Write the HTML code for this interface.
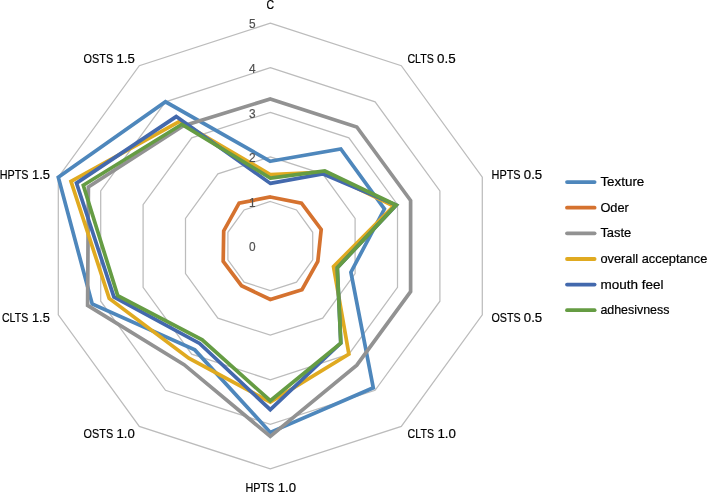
<!DOCTYPE html>
<html><head><meta charset="utf-8"><title>Radar chart</title>
<style>
html,body{margin:0;padding:0;background:#fff;}
svg{display:block;}
text{font-family:"Liberation Sans",sans-serif;}
.lbl{font-size:13px;fill:#000;stroke:#000;stroke-width:0.2px;}
.ax{font-size:13px;fill:#505050;stroke:#505050;stroke-width:0.2px;}
</style></head><body>
<svg width="708" height="492" viewBox="0 0 708 492">
<rect width="708" height="492" fill="#fff"/>
<g fill="none" stroke="#bcbcbc" stroke-width="1.25" stroke-linejoin="miter">
<polygon points="270.3,201.5 296.5,210.0 312.7,232.3 312.7,259.8 296.5,282.1 270.3,290.6 244.1,282.1 227.9,259.8 227.9,232.3 244.1,210.0"/>
<polygon points="270.3,156.9 322.7,173.9 355.1,218.5 355.1,273.6 322.7,318.2 270.3,335.2 217.9,318.2 185.5,273.6 185.5,218.5 217.9,173.9"/>
<polygon points="270.3,112.3 348.9,137.9 397.5,204.7 397.5,287.4 348.9,354.2 270.3,379.8 191.7,354.2 143.1,287.4 143.1,204.7 191.7,137.9"/>
<polygon points="270.3,67.7 375.1,101.8 439.9,190.9 439.9,301.2 375.1,390.3 270.3,424.4 165.5,390.3 100.7,301.2 100.7,190.9 165.5,101.8"/>
<polygon points="270.3,23.2 401.3,65.7 482.3,177.2 482.3,314.9 401.3,426.4 270.3,468.9 139.3,426.4 58.3,314.9 58.3,177.2 139.3,65.7"/>
</g>
<g fill="none" stroke-width="3.7" stroke-linejoin="miter" stroke-miterlimit="6">
<polygon stroke="#4e87bc" points="270.3,161.3 340.8,149.0 384.4,209.0 350.9,272.2 373.3,387.8 270.3,432.4 194.8,349.9 92.2,303.9 58.3,177.2 165.5,101.8"/>
<polygon stroke="#d5722f" points="270.3,197.0 301.5,203.1 321.2,229.5 317.8,261.5 302.0,289.7 270.3,299.5 241.5,285.7 223.2,261.3 223.7,230.9 239.1,203.1"/>
<polygon stroke="#929292" points="270.3,98.9 356.8,127.0 410.6,200.5 410.6,291.6 356.8,365.1 270.3,436.4 184.1,364.7 87.6,305.4 88.4,187.0 183.0,126.0"/>
<polygon stroke="#e0aa20" points="270.3,174.5 324.0,172.1 393.7,206.0 333.5,266.6 348.9,354.2 270.3,402.1 188.8,358.2 109.2,298.4 71.0,181.3 179.6,121.3"/>
<polygon stroke="#4369ad" points="270.3,183.4 322.7,173.9 396.2,205.1 337.3,267.8 340.8,343.1 270.3,409.7 199.6,343.4 113.9,296.9 76.5,183.1 176.2,116.6"/>
<polygon stroke="#659c43" points="270.3,178.1 324.8,171.0 396.2,205.1 337.3,267.8 340.8,343.1 270.3,400.7 202.2,339.8 117.7,295.6 83.3,185.3 181.9,124.3"/>
</g>
<text class="ax" x="255.6" y="251.2" text-anchor="end" textLength="6.6" lengthAdjust="spacingAndGlyphs">0</text>
<text class="ax" x="255.6" y="206.6" text-anchor="end" textLength="6.6" lengthAdjust="spacingAndGlyphs">1</text>
<text class="ax" x="255.6" y="162.0" text-anchor="end" textLength="6.6" lengthAdjust="spacingAndGlyphs">2</text>
<text class="ax" x="255.6" y="117.5" text-anchor="end" textLength="6.6" lengthAdjust="spacingAndGlyphs">3</text>
<text class="ax" x="255.6" y="72.9" text-anchor="end" textLength="6.6" lengthAdjust="spacingAndGlyphs">4</text>
<text class="ax" x="255.6" y="28.3" text-anchor="end" textLength="6.6" lengthAdjust="spacingAndGlyphs">5</text>
<text class="lbl" x="266.6" y="9.3" textLength="7.6" lengthAdjust="spacingAndGlyphs">C</text>
<text class="lbl" y="62.7"><tspan x="407.4" textLength="26.5" lengthAdjust="spacingAndGlyphs">CLTS</tspan> <tspan x="437.0" textLength="18.6" lengthAdjust="spacingAndGlyphs">0.5</tspan></text>
<text class="lbl" y="178.8"><tspan x="491.5" textLength="29.1" lengthAdjust="spacingAndGlyphs">HPTS</tspan> <tspan x="523.8" textLength="18.4" lengthAdjust="spacingAndGlyphs">0.5</tspan></text>
<text class="lbl" y="321.9"><tspan x="491.4" textLength="29.2" lengthAdjust="spacingAndGlyphs">OSTS</tspan> <tspan x="523.8" textLength="18.4" lengthAdjust="spacingAndGlyphs">0.5</tspan></text>
<text class="lbl" y="437.7"><tspan x="407.6" textLength="26.4" lengthAdjust="spacingAndGlyphs">CLTS</tspan> <tspan x="437.4" textLength="18.5" lengthAdjust="spacingAndGlyphs">1.0</tspan></text>
<text class="lbl" y="491.6"><tspan x="245.5" textLength="28.8" lengthAdjust="spacingAndGlyphs">HPTS</tspan> <tspan x="277.8" textLength="18.3" lengthAdjust="spacingAndGlyphs">1.0</tspan></text>
<text class="lbl" y="437.7"><tspan x="83.6" textLength="29.6" lengthAdjust="spacingAndGlyphs">OSTS</tspan> <tspan x="116.5" textLength="18.3" lengthAdjust="spacingAndGlyphs">1.0</tspan></text>
<text class="lbl" y="321.9"><tspan x="2.0" textLength="26.2" lengthAdjust="spacingAndGlyphs">CLTS</tspan> <tspan x="32.0" textLength="17.8" lengthAdjust="spacingAndGlyphs">1.5</tspan></text>
<text class="lbl" y="179.0"><tspan x="-0.3" textLength="28.8" lengthAdjust="spacingAndGlyphs">HPTS</tspan> <tspan x="32.0" textLength="18.0" lengthAdjust="spacingAndGlyphs">1.5</tspan></text>
<text class="lbl" y="62.9"><tspan x="83.6" textLength="29.6" lengthAdjust="spacingAndGlyphs">OSTS</tspan> <tspan x="116.5" textLength="18.3" lengthAdjust="spacingAndGlyphs">1.5</tspan></text>
<line x1="567" y1="182.1" x2="594.6" y2="182.1" stroke="#4e87bc" stroke-width="3.8" stroke-linecap="round"/>
<text class="lbl" x="600.4" y="186.0" textLength="43.9" lengthAdjust="spacingAndGlyphs">Texture</text>
<line x1="567" y1="207.7" x2="594.6" y2="207.7" stroke="#d5722f" stroke-width="3.8" stroke-linecap="round"/>
<text class="lbl" x="600.4" y="211.6" textLength="28.4" lengthAdjust="spacingAndGlyphs">Oder</text>
<line x1="567" y1="233.3" x2="594.6" y2="233.3" stroke="#929292" stroke-width="3.8" stroke-linecap="round"/>
<text class="lbl" x="600.4" y="237.2" textLength="30.9" lengthAdjust="spacingAndGlyphs">Taste</text>
<line x1="567" y1="259.0" x2="594.6" y2="259.0" stroke="#e0aa20" stroke-width="3.8" stroke-linecap="round"/>
<text class="lbl" x="600.4" y="262.9" textLength="106.9" lengthAdjust="spacingAndGlyphs">overall acceptance</text>
<line x1="567" y1="284.6" x2="594.6" y2="284.6" stroke="#4369ad" stroke-width="3.8" stroke-linecap="round"/>
<text class="lbl" x="600.4" y="288.5" textLength="63.0" lengthAdjust="spacingAndGlyphs">mouth feel</text>
<line x1="567" y1="310.2" x2="594.6" y2="310.2" stroke="#659c43" stroke-width="3.8" stroke-linecap="round"/>
<text class="lbl" x="600.4" y="314.1" textLength="69.0" lengthAdjust="spacingAndGlyphs">adhesivness</text>
</svg>
</body></html>
